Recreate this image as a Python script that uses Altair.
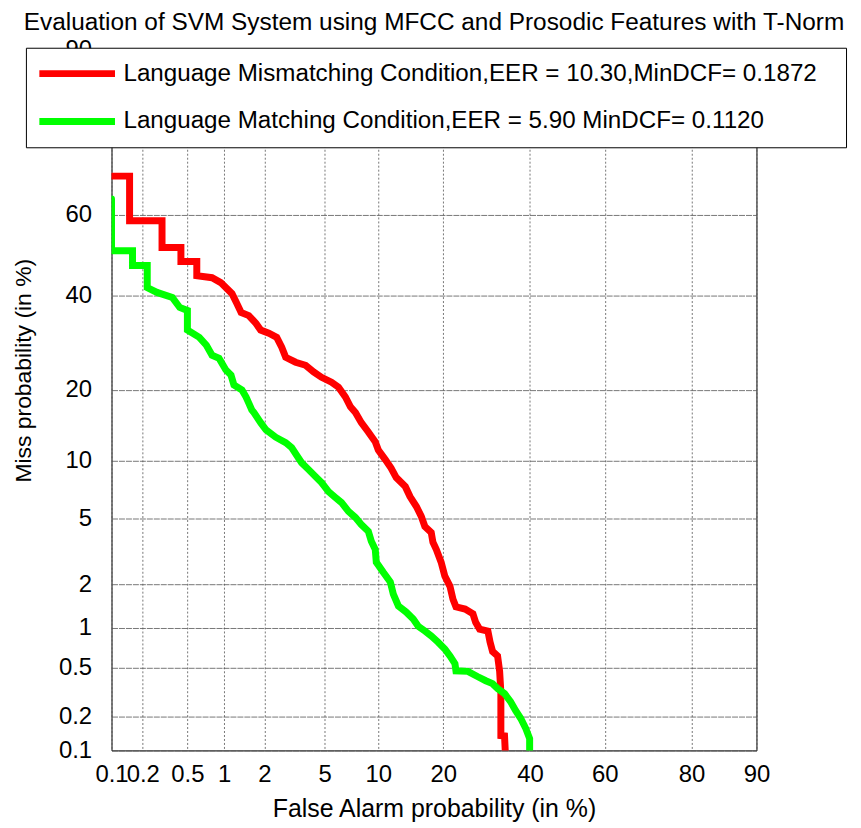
import altair as alt
import pandas as pd
from statistics import NormalDist

# ---------------- data (percent) ----------------
mis_fa = [0.10, 0.15, 0.15, 0.30, 0.30, 0.44, 0.44, 0.60, 0.60, 0.80, 0.94, 1.15, 1.25, 1.35, 1.54, 1.74,
          1.88, 2.15, 2.44, 2.64, 2.81, 3.27, 3.80, 4.27, 4.78, 5.49, 6.04, 6.62, 7.07, 7.54, 8.12, 8.86,
          9.64, 10.0, 10.85, 11.6, 12.3, 13.6, 14.3, 15.3, 16.1, 16.7, 17.8, 18.1, 18.7, 19.6, 20.3, 21.3,
          21.9, 22.5, 24.4, 26.1, 26.7, 27.6, 29.5, 30.0, 30.6, 31.8, 32.3, 32.6, 32.6, 33.5, 33.8]
mis_miss = [68.9, 68.9, 58.5, 58.5, 51.9, 51.9, 48.4, 48.4, 44.9, 44.4, 43.2, 40.5, 38.2, 36.0, 35.3, 33.5,
            32.0, 31.3, 30.4, 28.3, 26.2, 25.2, 24.6, 23.3, 22.3, 21.4, 20.5, 18.8, 17.2, 16.3, 14.8, 13.5,
            12.2, 11.2, 10.1, 9.2, 8.26, 7.43, 6.60, 5.84, 5.15, 4.52, 4.18, 3.66, 3.32, 2.77, 2.26, 1.94,
            1.59, 1.41, 1.36, 1.26, 1.10, 0.98, 0.95, 0.79, 0.67, 0.62, 0.47, 0.32, 0.136, 0.135, 0.08]

mat_fa = [0.10, 0.10, 0.16, 0.16, 0.22, 0.22, 0.27, 0.37, 0.43, 0.50, 0.50, 0.63, 0.72, 0.80, 0.91, 0.96,
          1.03, 1.13, 1.19, 1.37, 1.47, 1.54, 1.62, 1.68, 1.88, 2.05, 2.40, 2.81, 3.08, 3.32, 3.58, 3.97,
          4.39, 4.78, 5.27, 5.80, 6.28, 6.89, 7.54, 8.12, 8.86, 9.19, 9.64, 9.76, 10.6, 11.5, 11.9, 12.6,
          13.7, 14.8, 15.6, 16.7, 17.8, 19.0, 20.3, 21.3, 22.3, 22.5, 25.0, 27.2, 29.0, 30.6, 31.8, 33.5,
          35.0, 36.3, 37.6, 38.9, 39.9, 39.9]
mat_miss = [63.7, 51.1, 51.1, 47.4, 47.4, 42.0, 40.8, 39.6, 37.2, 36.5, 32.0, 30.4, 28.7, 26.6, 26.0, 25.0,
            23.7, 22.7, 20.9, 20.0, 18.8, 17.8, 16.7, 16.3, 14.8, 13.8, 12.8, 12.1, 11.5, 10.6, 9.76, 9.04,
            8.35, 7.79, 7.01, 6.52, 6.14, 5.49, 5.08, 4.64, 4.24, 3.71, 3.32, 2.77, 2.39, 2.07, 1.72, 1.43,
            1.30, 1.16, 1.03, 0.95, 0.875, 0.79, 0.70, 0.62, 0.54, 0.475, 0.47, 0.426, 0.396, 0.375, 0.342,
            0.311, 0.267, 0.224, 0.192, 0.157, 0.128, 0.08]

x_ticks = [0.1, 0.2, 0.5, 1, 2, 5, 10, 20, 40, 60, 80, 90]
y_ticks = [0.1, 0.2, 0.5, 1, 2, 5, 10, 20, 40, 60, 90]

label_mis = "Language Mismatching Condition,EER = 10.30,MinDCF= 0.1872"
label_mat = "Language Matching Condition,EER = 5.90 MinDCF= 0.1120"
title_text = "Evaluation of SVM System using MFCC and Prosodic Features with T-Norm"

FONT = "Liberation Sans"
nd = NormalDist()


def probit(pct):
    return nd.inv_cdf(pct / 100.0)


def frame(fa, miss, label):
    return pd.DataFrame({
        "fa": fa, "miss": miss,
        "zx": [probit(v) for v in fa],
        "zy": [probit(v) for v in miss],
        "series": label,
        "idx": list(range(len(fa))),
    })


def label_expr(ticks):
    zs = [probit(t) for t in ticks]
    labels = ["%g" % t for t in ticks]
    expr = "'%s'" % labels[-1]
    for i in range(len(ticks) - 2, -1, -1):
        mid = (zs[i] + zs[i + 1]) / 2
        expr = "datum.value < %.5f ? '%s' : (%s)" % (mid, labels[i], expr)
    return expr


x_scale = alt.Scale(domain=[probit(0.1), probit(90)], nice=False, zero=False)
y_scale = alt.Scale(domain=[probit(0.1), probit(90)], nice=False, zero=False)

x_axis = alt.Axis(values=[probit(t) for t in x_ticks], labelExpr=label_expr(x_ticks),
                  title="False Alarm probability (in %)", grid=True, gridDash=[2, 2],
                  gridColor="#555555", gridOpacity=0.8, ticks=False, domain=False,
                  labelFlush=False, labelOverlap=False, labelPadding=12, titlePadding=10,
                  titleFontSize=25)
y_axis = alt.Axis(values=[probit(t) for t in y_ticks], labelExpr=label_expr(y_ticks),
                  title="Miss probability (in %)", grid=True, gridDash=[6, 1],
                  gridColor="#555555", gridOpacity=0.8, ticks=False, domain=False,
                  labelFlush=False, labelOverlap=False, labelPadding=20,
                  titleFontSize=23, titleY=322, titleX=-76)

color_scale = alt.Scale(domain=[label_mis, label_mat], range=["#ff0000", "#00ff00"])
legend = alt.Legend(orient="none", legendX=-86, legendY=-2, direction="vertical",
                    title="\u00a0", titleOrient="right", titlePadding=19, titleFontSize=1,
                    fillColor="white", strokeColor="black", padding=10,
                    symbolType="stroke", symbolSize=5776, symbolStrokeWidth=7, clipHeight=32,
                    rowPadding=16, labelFontSize=24.3, labelFont=FONT, labelOffset=5, labelLimit=2000)


def layer(df):
    return alt.Chart(df).mark_line(strokeWidth=7, clip=True, strokeCap="round").encode(
        x=alt.X("zx:Q", scale=x_scale, axis=x_axis),
        y=alt.Y("zy:Q", scale=y_scale, axis=y_axis),
        color=alt.Color("series:N", scale=color_scale, legend=legend),
        order=alt.Order("idx:Q"),
    )


chart = alt.layer(
    layer(frame(mis_fa, mis_miss, label_mis)),
    layer(frame(mat_fa, mat_miss, label_mat)),
).properties(
    width=648, height=704,
    autosize=alt.AutoSizeParams(type="none"),
    padding={"left": 104, "top": 40, "right": 97, "bottom": 72},
    title=alt.TitleParams(title_text, fontSize=24.5, font=FONT, fontWeight="normal", color="black",
                          anchor="middle", offset=1, dy=-1),
).configure_view(
    stroke="black", strokeWidth=1
).configure_axis(
    labelFont=FONT, labelFontSize=24, labelColor="black",
    titleFont=FONT, titleFontWeight="normal", titleColor="black",
)

chart.save("out.html", embed_options={"renderer": "svg", "actions": False})
